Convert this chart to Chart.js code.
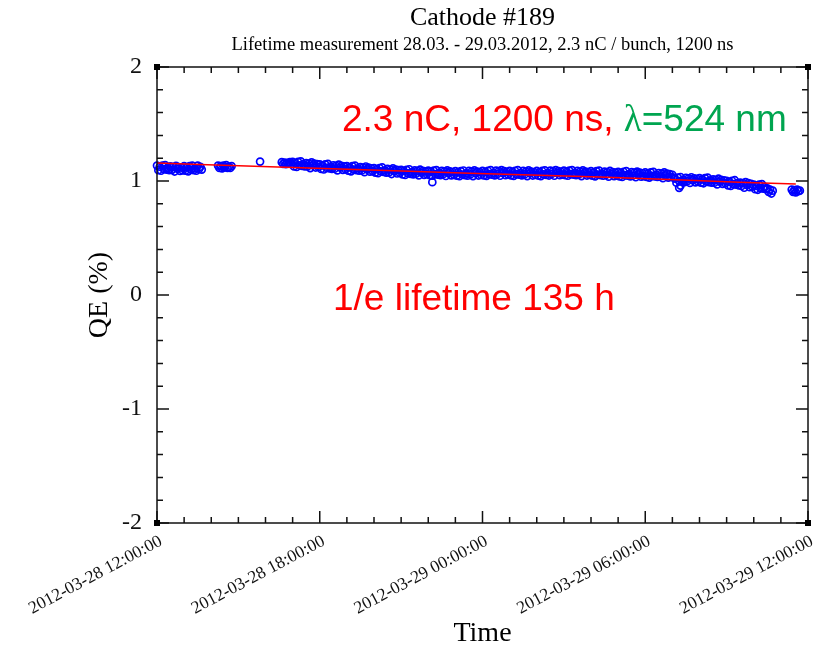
<!DOCTYPE html>
<html>
<head>
<meta charset="utf-8">
<title>Cathode #189</title>
<script src="https://cdn.jsdelivr.net/npm/chart.js@4.4.1/dist/chart.umd.min.js"></script>
<style>
  html, body { margin: 0; padding: 0; background: #fff; }
  #chart { display: block; }
</style>
</head>
<body>
<canvas id="chart" width="829" height="649"></canvas>
<script>
// hours after 2012-03-28 12:00:00
const xTickLabels = ['2012-03-28 12:00:00', '2012-03-28 18:00:00', '2012-03-29 00:00:00',
                     '2012-03-29 06:00:00', '2012-03-29 12:00:00'];
const yTicks = [-2, -1, 0, 1, 2];

const qeHours = [
  0.00,0.05,0.10,0.15,0.20,0.25,0.30,0.35,0.40,0.45,0.50,0.55,0.60,0.65,0.70,0.75,0.80,0.85,0.90,0.95,
  1.00,1.05,1.10,1.15,1.20,1.25,1.30,1.35,1.40,1.45,1.50,1.55,1.60,1.65,
  2.25,2.30,2.35,2.40,2.45,2.50,2.55,2.60,2.65,2.70,2.75,
  3.80,
  4.60,4.65,4.70,4.75,4.80,4.85,4.90,4.95,
  5.00,5.05,5.10,5.15,5.20,5.25,5.30,5.35,5.40,5.45,5.50,5.55,5.60,5.65,5.70,5.75,5.80,5.85,5.90,5.95,
  6.00,6.05,6.10,6.15,6.20,6.25,6.30,6.35,6.40,6.45,6.50,6.55,6.60,6.65,6.70,6.75,6.80,6.85,6.90,6.95,
  7.00,7.05,7.10,7.15,7.20,7.25,7.30,7.35,7.40,7.45,7.50,7.55,7.60,7.65,7.70,7.75,7.80,7.85,7.90,7.95,
  8.00,8.05,8.10,8.15,8.20,8.25,8.30,8.35,8.40,8.45,8.50,8.55,8.60,8.65,8.70,8.75,8.80,8.85,8.90,8.95,
  9.00,9.05,9.10,9.15,9.20,9.25,9.30,9.35,9.40,9.45,9.50,9.55,9.60,9.65,9.70,9.75,9.80,9.85,9.90,9.95,
  10.00,10.05,10.10,10.15,10.20,10.25,10.30,10.35,10.40,10.45,10.50,10.55,10.60,10.65,10.70,10.75,10.80,10.85,10.90,10.95,
  11.00,11.05,11.10,11.15,11.20,11.25,11.30,11.35,11.40,11.45,11.50,11.55,11.60,11.65,11.70,11.75,11.80,11.85,11.90,11.95,
  12.00,12.05,12.10,12.15,12.20,12.25,12.30,12.35,12.40,12.45,12.50,12.55,12.60,12.65,12.70,12.75,12.80,12.85,12.90,12.95,
  13.00,13.05,13.10,13.15,13.20,13.25,13.30,13.35,13.40,13.45,13.50,13.55,13.60,13.65,13.70,13.75,13.80,13.85,13.90,13.95,
  14.00,14.05,14.10,14.15,14.20,14.25,14.30,14.35,14.40,14.45,14.50,14.55,14.60,14.65,14.70,14.75,14.80,14.85,14.90,14.95,
  15.00,15.05,15.10,15.15,15.20,15.25,15.30,15.35,15.40,15.45,15.50,15.55,15.60,15.65,15.70,15.75,15.80,15.85,15.90,15.95,
  16.00,16.05,16.10,16.15,16.20,16.25,16.30,16.35,16.40,16.45,16.50,16.55,16.60,16.65,16.70,16.75,16.80,16.85,16.90,16.95,
  17.00,17.05,17.10,17.15,17.20,17.25,17.30,17.35,17.40,17.45,17.50,17.55,17.60,17.65,17.70,17.75,17.80,17.85,17.90,17.95,
  18.00,18.05,18.10,18.15,18.20,18.25,18.30,18.35,18.40,18.45,18.50,18.55,18.60,18.65,18.70,18.75,18.80,18.85,18.90,18.95,
  19.00,19.05,19.10,19.15,19.20,19.25,19.30,19.35,19.40,19.45,19.50,19.55,19.60,19.65,19.70,19.75,19.80,19.85,19.90,19.95,
  20.00,20.05,20.10,20.15,20.20,20.25,20.30,20.35,20.40,20.45,20.50,20.55,20.60,20.65,20.70,20.75,20.80,20.85,20.90,20.95,
  21.00,21.05,21.10,21.15,21.20,21.25,21.30,21.35,21.40,21.45,21.50,21.55,21.60,21.65,21.70,21.75,21.80,21.85,21.90,21.95,
  22.00,22.05,22.10,22.15,22.20,22.25,22.30,22.35,22.40,22.45,22.50,22.55,22.60,22.65,22.70,
  10.15,19.25,19.30,
  23.40,23.45,23.50,23.55,23.60,23.65,23.70
];
const qeValues = [
  1.135,1.095,1.125,1.090,1.135,1.105,1.140,1.100,1.115,1.095,1.128,1.098,1.123,1.083,1.133,1.108,1.123,1.088,1.118,1.093,
  1.130,1.090,1.120,1.085,1.130,1.100,1.135,1.095,1.110,1.090,1.135,1.105,1.125,1.100,
  1.135,1.115,1.130,1.110,1.135,1.120,1.140,1.115,1.125,1.115,1.130,
  1.170,
  1.165,1.150,1.162,1.148,1.160,1.152,1.165,1.150,
  1.168,1.128,1.158,1.123,1.168,1.138,1.173,1.133,1.148,1.128,1.158,1.128,1.153,1.113,1.163,1.138,1.153,1.118,1.148,1.123,
  1.146,1.106,1.136,1.101,1.146,1.116,1.151,1.111,1.126,1.106,1.138,1.108,1.133,1.093,1.143,1.118,1.133,1.098,1.128,1.103,
  1.130,1.090,1.120,1.085,1.130,1.100,1.135,1.095,1.110,1.090,1.122,1.092,1.117,1.077,1.127,1.102,1.117,1.082,1.112,1.087,
  1.114,1.074,1.104,1.069,1.114,1.084,1.119,1.079,1.094,1.074,1.106,1.076,1.101,1.061,1.111,1.086,1.101,1.066,1.096,1.071,
  1.098,1.058,1.088,1.053,1.098,1.068,1.103,1.063,1.078,1.058,1.094,1.064,1.089,1.049,1.099,1.074,1.089,1.054,1.084,1.059,
  1.091,1.051,1.081,1.046,1.091,1.061,1.096,1.056,1.071,1.051,1.089,1.059,1.084,1.044,1.094,1.069,1.084,1.049,1.079,1.054,
  1.087,1.047,1.077,1.042,1.087,1.057,1.092,1.052,1.067,1.047,1.088,1.058,1.083,1.043,1.093,1.068,1.083,1.048,1.078,1.053,
  1.090,1.050,1.080,1.045,1.090,1.060,1.095,1.055,1.070,1.050,1.091,1.061,1.086,1.046,1.096,1.071,1.086,1.051,1.081,1.056,
  1.090,1.050,1.080,1.045,1.090,1.060,1.095,1.055,1.070,1.050,1.088,1.058,1.083,1.043,1.093,1.068,1.083,1.048,1.078,1.053,
  1.088,1.048,1.078,1.043,1.088,1.058,1.093,1.053,1.068,1.048,1.091,1.061,1.086,1.046,1.096,1.071,1.086,1.051,1.081,1.056,
  1.091,1.051,1.081,1.046,1.091,1.061,1.096,1.056,1.071,1.051,1.088,1.058,1.083,1.043,1.093,1.068,1.083,1.048,1.078,1.053,
  1.086,1.046,1.076,1.041,1.086,1.056,1.091,1.051,1.066,1.046,1.083,1.053,1.078,1.038,1.088,1.063,1.078,1.043,1.073,1.048,
  1.081,1.041,1.071,1.036,1.081,1.051,1.086,1.046,1.061,1.041,1.078,1.048,1.073,1.033,1.083,1.058,1.073,1.038,1.068,1.043,
  1.075,1.035,1.065,1.030,1.075,1.045,1.080,1.040,1.055,1.035,1.070,1.040,1.065,1.025,1.075,1.050,1.065,1.030,1.060,1.035,
  1.055,1.030,1.020,0.985,1.030,1.000,1.035,0.995,1.010,0.990,1.028,0.998,1.023,0.983,1.033,1.008,1.023,0.988,1.018,0.993,
  1.025,0.985,1.015,0.980,1.025,0.995,1.030,0.990,1.005,0.985,1.015,0.985,1.010,0.970,1.020,0.995,1.010,0.975,1.005,0.980,
  1.002,0.962,0.992,0.957,1.002,0.972,1.007,0.967,0.982,0.962,0.986,0.956,0.981,0.941,0.991,0.966,0.981,0.946,0.976,0.951,
  0.968,0.928,0.958,0.923,0.968,0.938,0.973,0.933,0.948,0.928,0.935,0.905,0.925,0.890,0.915,
  0.990,0.940,0.960,
  0.925,0.905,0.920,0.900,0.925,0.910,0.915
];

// exponential fit (1/e lifetime 135 h)
const fitHours = [0, 1.58, 4.16, 6.74, 9.31, 11.52, 14.1, 16.3, 18.9, 21.46, 23.55];
const fitValues = [1.158, 1.145, 1.125, 1.105, 1.085, 1.068, 1.050, 1.035, 1.013, 0.990, 0.974];

const SERIF = '"Liberation Serif", "DejaVu Serif", serif';
const SANS = '"Liberation Sans", Arial, sans-serif';

const frame = {
  id: 'frame',
  afterDraw(chart) {
    const { ctx, chartArea: a, scales: { x, y } } = chart;
    ctx.save();
    ctx.strokeStyle = '#111';
    ctx.lineWidth = 1.5;
    ctx.strokeRect(a.left, a.top, a.right - a.left, a.bottom - a.top);

    // inward ticks on all four sides
    ctx.beginPath();
    for (let h = 0; h <= 24; h++) {
      const px = x.getPixelForValue(h);
      const len = h % 6 === 0 ? 12 : 6;
      ctx.moveTo(px, a.bottom); ctx.lineTo(px, a.bottom - len);
      ctx.moveTo(px, a.top); ctx.lineTo(px, a.top + len);
    }
    for (let i = -10; i <= 10; i++) {
      const py = y.getPixelForValue(i / 5);
      const len = i % 5 === 0 ? 12 : 6;
      ctx.moveTo(a.left, py); ctx.lineTo(a.left + len, py);
      ctx.moveTo(a.right, py); ctx.lineTo(a.right - len, py);
    }
    ctx.stroke();

    ctx.fillStyle = '#000';
    for (const [cx, cy] of [[a.left, a.top], [a.right, a.top], [a.left, a.bottom], [a.right, a.bottom]]) {
      ctx.fillRect(cx - 3, cy - 3, 6, 6);
    }

    // titles
    const mid = (a.left + a.right) / 2;
    ctx.textAlign = 'center';
    ctx.textBaseline = 'middle';
    ctx.font = '26px ' + SERIF;
    ctx.fillText('Cathode #189', mid, 18);
    ctx.font = '18.5px ' + SERIF;
    ctx.fillText('Lifetime measurement 28.03. - 29.03.2012, 2.3 nC / bunch, 1200 ns', mid, 45);
    ctx.font = '28px ' + SERIF;
    ctx.fillText('Time', mid, 634);
    ctx.save();
    ctx.translate(100, (a.top + a.bottom) / 2);
    ctx.rotate(-Math.PI / 2);
    ctx.fillText('QE (%)', 0, 0);
    ctx.restore();

    // annotations
    ctx.textAlign = 'left';
    ctx.textBaseline = 'alphabetic';
    ctx.font = '37px ' + SANS;
    ctx.fillStyle = '#ff0000';
    let tx = 342;
    const part1 = '2.3 nC, 1200 ns, ';
    ctx.fillText(part1, tx, 131);
    tx += ctx.measureText(part1).width;
    ctx.fillStyle = '#00a550';
    ctx.font = '37px ' + SERIF;
    ctx.fillText('λ', tx, 131);
    tx += ctx.measureText('λ').width;
    ctx.font = '37px ' + SANS;
    ctx.fillText('=524 nm', tx, 131);

    ctx.fillStyle = '#ff0000';
    ctx.fillText('1/e lifetime 135 h', 333, 310);
    ctx.restore();
  }
};

new Chart(document.getElementById('chart'), {
  data: {
    datasets: [
      {
        type: 'line',
        label: 'fit',
        data: fitHours.map((h, i) => ({ x: h, y: fitValues[i] })),
        borderColor: '#ff0000',
        borderWidth: 1.5,
        pointRadius: 0,
        tension: 0
      },
      {
        type: 'scatter',
        label: 'QE',
        data: qeHours.map((h, i) => ({ x: h, y: qeValues[i] })),
        borderColor: '#0000ff',
        backgroundColor: 'rgba(0,0,0,0)',
        borderWidth: 1.7,
        pointRadius: 3.5,
        clip: false
      }
    ]
  },
  options: {
    responsive: false,
    devicePixelRatio: 1,
    animation: false,
    layout: { padding: { top: 67, right: 21, left: 0, bottom: 0 } },
    plugins: { legend: { display: false }, tooltip: { enabled: false } },
    scales: {
      x: {
        type: 'linear',
        min: 0, max: 24,
        grid: { display: false },
        border: { display: false },
        ticks: {
          stepSize: 6,
          autoSkip: false,
          minRotation: 28, maxRotation: 28,
          padding: 0,
          labelOffset: 4,
          color: '#111',
          font: { family: SERIF, size: 17.5 },
          callback: v => xTickLabels[v / 6]
        },
        afterFit(s) { s.height = 126; s.paddingLeft = 0; s.paddingRight = 0; }
      },
      y: {
        min: -2, max: 2,
        grid: { display: false },
        border: { display: false },
        afterBuildTicks(s) { s.ticks = yTicks.map(v => ({ value: v })); },
        ticks: {
          padding: 7,
          color: '#111',
          font: { family: SERIF, size: 24 },
          callback: v => (v < 0 ? '-' + Math.abs(v) : String(v))
        },
        afterFit(s) { s.width = 157; }
      }
    }
  },
  plugins: [frame]
});
</script>
</body>
</html>
